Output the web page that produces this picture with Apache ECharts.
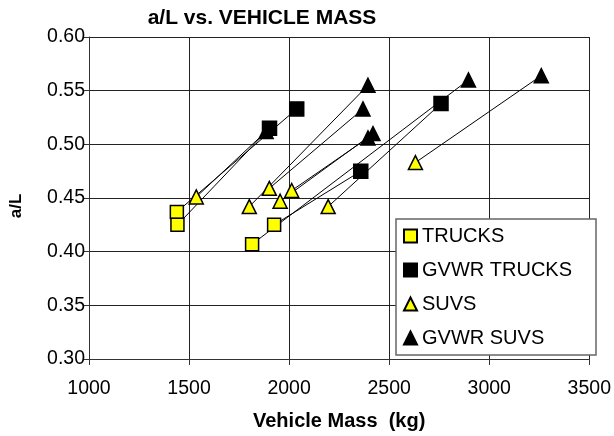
<!DOCTYPE html>
<html>
<head>
<meta charset="utf-8">
<script src="https://cdn.jsdelivr.net/npm/echarts@6/dist/echarts.min.js"></script>
<style>
  html, body { margin: 0; padding: 0; background: #fff; }
  #chart { width: 614px; height: 436px; }
</style>
</head>
<body>
<div id="chart"></div>
<script>
  // axis ticks
  const xTicks = [1000, 1500, 2000, 2500, 3000, 3500]
  const yTicks = [0.30, 0.35, 0.40, 0.45, 0.50, 0.55, 0.60]

  // curb mass (kg) vs a/L
  const truckMass = [1439, 1442, 1815, 1925]
  const truckAL = [0.437, 0.425, 0.407, 0.425]
  const suvMass = [1536, 1801, 1901, 1955, 2013, 2195, 2631]
  const suvAL = [0.451, 0.442, 0.459, 0.447, 0.457, 0.442, 0.483]

  // loaded to GVWR
  const gvwrTruckMass = [1902, 2038, 2358, 2759]
  const gvwrTruckAL = [0.515, 0.533, 0.475, 0.538]
  const gvwrSuvMass = [1885, 2394, 2369, 2394, 2419, 2896, 3260]
  const gvwrSuvAL = [0.512, 0.555, 0.533, 0.506, 0.510, 0.560, 0.564]

  // base point -> GVWR point
  const links = [
    ['TRUCKS', 0, 'GVWR TRUCKS', 1],
    ['TRUCKS', 1, 'GVWR TRUCKS', 0],
    ['TRUCKS', 2, 'GVWR SUVS', 5],
    ['TRUCKS', 3, 'GVWR TRUCKS', 2],
    ['SUVS', 0, 'GVWR SUVS', 0],
    ['SUVS', 1, 'GVWR SUVS', 1],
    ['SUVS', 2, 'GVWR SUVS', 2],
    ['SUVS', 3, 'GVWR SUVS', 4],
    ['SUVS', 4, 'GVWR SUVS', 3],
    ['SUVS', 5, 'GVWR TRUCKS', 3],
    ['SUVS', 6, 'GVWR SUVS', 6]
  ]

  const zip = (xs, ys) => xs.map((x, i) => [x, ys[i]])
  const pts = {
    'TRUCKS': zip(truckMass, truckAL),
    'GVWR TRUCKS': zip(gvwrTruckMass, gvwrTruckAL),
    'SUVS': zip(suvMass, suvAL),
    'GVWR SUVS': zip(gvwrSuvMass, gvwrSuvAL)
  }

  const font = 'Liberation Sans, Arial, sans-serif'
  const myChart = echarts.init(document.getElementById('chart'))

  const marker = (name, symbol, size, color) => ({
    name,
    type: 'scatter',
    data: pts[name],
    symbol,
    symbolSize: size,
    itemStyle: { color, borderColor: '#000', borderWidth: 1.5, opacity: 1 },
    z: 3
  })

  let option = {
    animation: false,
    textStyle: { fontFamily: font },
    title: {
      text: 'a/L vs. VEHICLE MASS',
      left: 262,
      top: 8,
      textAlign: 'center',
      padding: 0,
      textStyle: { fontSize: 21, fontWeight: 'bold', color: '#000', fontFamily: font }
    },
    grid: { left: 88, right: 23, top: 37, bottom: 76 },
    legend: {
      data: ['TRUCKS', 'GVWR TRUCKS', 'SUVS', 'GVWR SUVS'],
      orient: 'vertical',
      left: 396,
      top: 219,
      itemWidth: 13,
      itemHeight: 13,
      itemGap: 14,
      padding: [7, 24, 7, 7],
      backgroundColor: '#fff',
      borderColor: '#666',
      borderWidth: 1.5,
      textStyle: { fontSize: 20, lineHeight: 20, color: '#000', fontFamily: font }
    },
    xAxis: {
      type: 'value',
      min: xTicks[0],
      max: xTicks[xTicks.length - 1],
      interval: xTicks[1] - xTicks[0],
      name: 'Vehicle Mass  (kg)',
      nameLocation: 'middle',
      nameGap: 52,
      nameTextStyle: { fontSize: 20, fontWeight: 'bold', color: '#000', fontFamily: font },
      axisLine: { lineStyle: { color: '#333', width: 1 } },
      axisTick: { length: 6, lineStyle: { color: '#333' } },
      axisLabel: { fontSize: 19.5, color: '#000', margin: 20, fontFamily: font, formatter: v => String(v) },
      splitLine: { show: true, lineStyle: { color: '#222', width: 1 } }
    },
    yAxis: {
      type: 'value',
      min: yTicks[0],
      max: yTicks[yTicks.length - 1],
      interval: 0.05,
      name: 'a/L',
      nameLocation: 'middle',
      nameGap: 64,
      nameTextStyle: { fontSize: 17, fontWeight: 'bold', color: '#000', fontFamily: font, padding: [0, 16, 0, 0] },
      axisLine: { show: true, lineStyle: { color: '#333', width: 1 } },
      axisTick: { show: true, length: 5, lineStyle: { color: '#333' } },
      axisLabel: { fontSize: 19.5, color: '#000', margin: 4, fontFamily: font, formatter: v => v.toFixed(2) },
      splitLine: { show: true, lineStyle: { color: '#222', width: 1 } }
    },
    series: [{
      type: 'lines',
      coordinateSystem: 'cartesian2d',
      silent: true,
      lineStyle: { color: '#000', width: 1, opacity: 1 },
      data: links.map(l => ({ coords: [pts[l[0]][l[1]], pts[l[2]][l[3]]] })),
      z: 2
    },
    marker('TRUCKS', 'rect', 13, '#ffff00'),
    marker('GVWR TRUCKS', 'rect', 14, '#000'),
    marker('SUVS', 'triangle', 14, '#ffff00'),
    marker('GVWR SUVS', 'triangle', 14, '#000')
    ]
  }
  myChart.setOption(option)
</script>
</body>
</html>
